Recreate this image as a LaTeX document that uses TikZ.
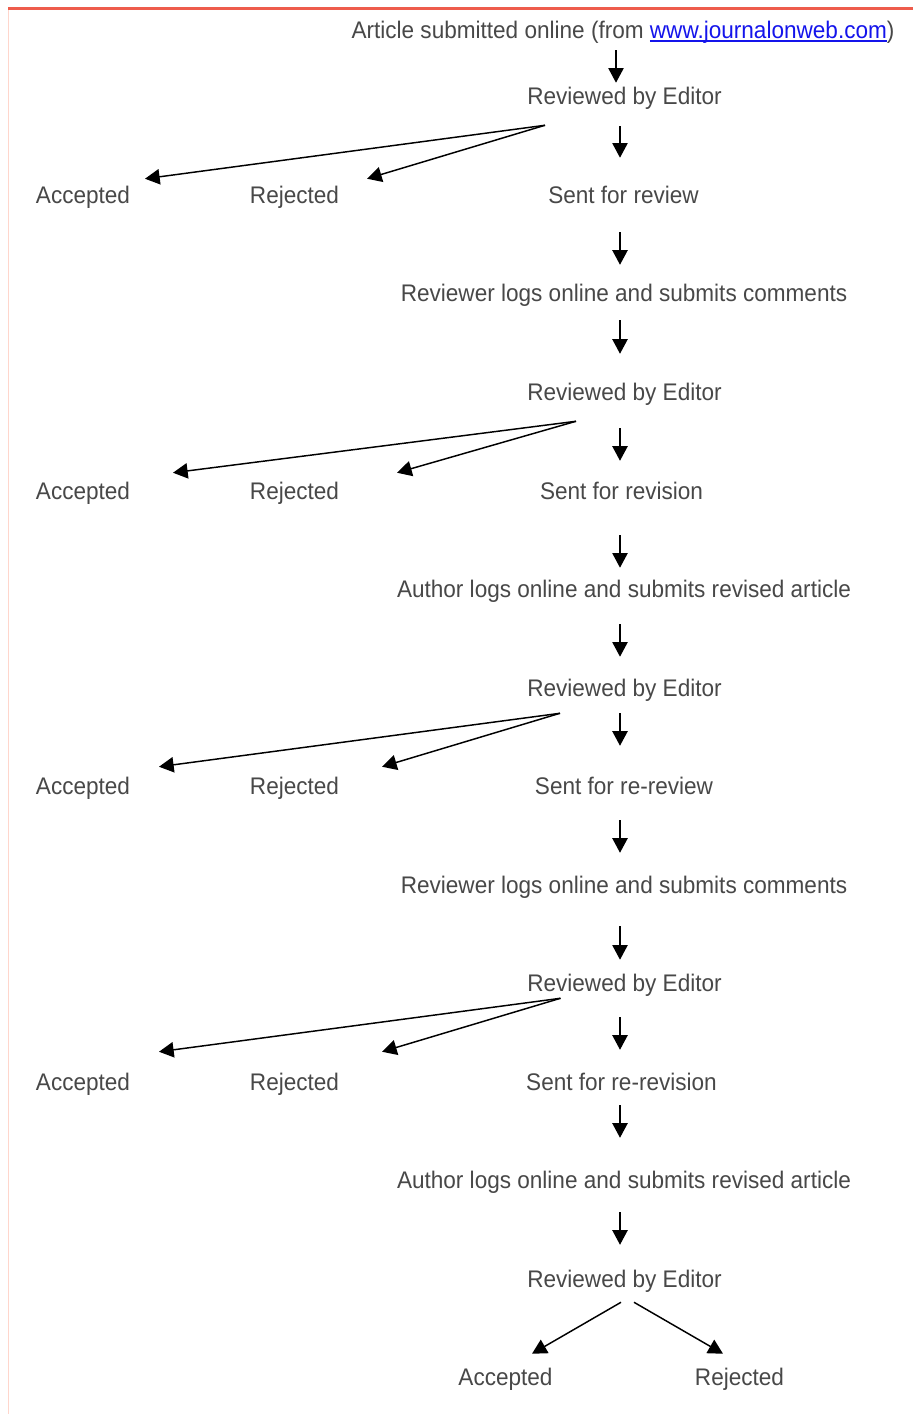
\documentclass[tikz,border=0pt]{standalone}
\usepackage{fontspec}
\setmainfont{Liberation Sans}[FakeStretch=0.94]
\usepackage{xcolor}
\usetikzlibrary{arrows.meta,calc}

\definecolor{linkblue}{RGB}{20,20,235}
\definecolor{topred}{RGB}{238,92,76}
\definecolor{edgepink}{RGB}{255,214,204}
\definecolor{txtgray}{RGB}{72,72,72}

\newcommand{\weblink}[1]{\setbox0\hbox{#1}\rlap{\rule[-2.6pt]{\wd0}{1.3pt}}\box0}

\tikzset{
  lbl/.style={anchor=base, inner sep=0pt, text height=12.75pt, text depth=3.75pt,
    text=txtgray, font=\fontsize{18}{20}\selectfont},
  arr/.style={-{Triangle[length=11pt,width=11.5pt]}, line width=1.1pt},
}

\begin{document}
\begin{tikzpicture}[x=0.75pt,y=0.75pt,yscale=-1,xscale=1]

\useasboundingbox (0,0) rectangle (913,1414);
\fill[white] (0,0) rectangle (913,1414);

% page edges
\draw[edgepink, line width=1.1pt] (8.5,8) -- (8.5,1414);
\draw[topred, line width=2.25pt] (8,8) -- (913,8);

\coordinate (spine0) at (616,0);
\coordinate (spine) at (620,0);

% main column
\draw (623,38.5) node[lbl] (sub) {Article submitted online (from {\color{linkblue}\weblink{www.journalonweb.com}})};

\draw (624.5,104.5) node[lbl] (rev1) {Reviewed by Editor};

\draw (83,203.5) node[lbl] (acc1) {Accepted};
\draw (294.5,203.5) node[lbl] (rej1) {Rejected};
\draw (623.5,203.5) node[lbl] (sent1) {Sent for review};

\draw (624,301.5) node[lbl] (logs1) {Reviewer logs online and submits comments};

\draw (624.5,400.5) node[lbl] (rev2) {Reviewed by Editor};

\draw (83,499.5) node[lbl] (acc2) {Accepted};
\draw (294.5,499.5) node[lbl] (rej2) {Rejected};
\draw (621.5,499.5) node[lbl] (sent2) {Sent for revision};

\draw (624,597.5) node[lbl] (auth1) {Author logs online and submits revised article};

\draw (624.5,696.5) node[lbl] (rev3) {Reviewed by Editor};

\draw (83,794.5) node[lbl] (acc3) {Accepted};
\draw (294.5,794.5) node[lbl] (rej3) {Rejected};
\draw (624,794.5) node[lbl] (sent3) {Sent for re-review};

\draw (624,893.5) node[lbl] (logs2) {Reviewer logs online and submits comments};

\draw (624.5,991.5) node[lbl] (rev4) {Reviewed by Editor};

\draw (83,1090.5) node[lbl] (acc4) {Accepted};
\draw (294.5,1090.5) node[lbl] (rej4) {Rejected};
\draw (621.5,1090.5) node[lbl] (sent4) {Sent for re-revision};

\draw (624,1188.5) node[lbl] (auth2) {Author logs online and submits revised article};

\draw (624.5,1287.5) node[lbl] (rev5) {Reviewed by Editor};

\draw (505.5,1385.5) node[lbl] (acc5) {Accepted};
\draw (739.5,1385.5) node[lbl] (rej5) {Rejected};

% down arrows
\draw[arr, shorten <=4.9pt, shorten >=3.4pt] (sub.south -| spine0) -- (rev1.north -| spine0);
\draw[arr, shorten <=12.4pt, shorten >=21.4pt] (rev1.south -| spine) -- (sent1.north -| spine);
\draw[arr, shorten <=17.6pt, shorten >=14.6pt] (sent1.south -| spine) -- (logs1.north -| spine);
\draw[arr, shorten <=10.1pt, shorten >=22.1pt] (logs1.south -| spine) -- (rev2.north -| spine);
\draw[arr, shorten <=16.9pt, shorten >=16.1pt] (rev2.south -| spine) -- (sent2.north -| spine);
\draw[arr, shorten <=22.9pt, shorten >=9.4pt] (sent2.south -| spine) -- (auth1.north -| spine);
\draw[arr, shorten <=16.1pt, shorten >=16.9pt] (auth1.south -| spine) -- (rev3.north -| spine);
\draw[arr, shorten <=8.6pt, shorten >=23.6pt] (rev3.south -| spine) -- (sent3.north -| spine);
\draw[arr, shorten <=15.4pt, shorten >=17.6pt] (sent3.south -| spine) -- (logs2.north -| spine);
\draw[arr, shorten <=20.6pt, shorten >=10.9pt] (logs2.south -| spine) -- (rev4.north -| spine);
\draw[arr, shorten <=15.4pt, shorten >=17.6pt] (rev4.south -| spine) -- (sent4.north -| spine);
\draw[arr, shorten <=7.1pt, shorten >=25.1pt] (sent4.south -| spine) -- (auth2.north -| spine);
\draw[arr, shorten <=13.9pt, shorten >=19.1pt] (auth2.south -| spine) -- (rev5.north -| spine);

% accept / reject branches
\coordinate (split1) at ($(rev1.south)+(-79.5,15.5)$);
\draw[arr] (split1) -- ($(acc1.north)+(62,-7.5)$);
\draw[arr] (split1) -- ($(rej1.north)+(72.5,-7.5)$);

\coordinate (split2) at ($(rev2.south)+(-48.5,15.5)$);
\draw[arr] (split2) -- ($(acc2.north)+(90,-9.5)$);
\draw[arr] (split2) -- ($(rej2.north)+(102.5,-9.5)$);

\coordinate (split3) at ($(rev3.south)+(-64.5,11.5)$);
\draw[arr] (split3) -- ($(acc3.north)+(76,-10.5)$);
\draw[arr] (split3) -- ($(rej3.north)+(87.5,-10.5)$);

\coordinate (split4) at ($(rev4.south)+(-64,1.5)$);
\draw[arr] (split4) -- ($(acc4.north)+(76,-21.5)$);
\draw[arr] (split4) -- ($(rej4.north)+(87.5,-21.5)$);

\draw[arr] ($(rev5.south)+(-3.5,9.5)$) -- ($(acc5.north)+(26.5,-14.5)$);
\draw[arr] ($(rev5.south)+(9.5,9.5)$) -- ($(rej5.north)+(-16.5,-14.5)$);

\end{tikzpicture}
\end{document}
